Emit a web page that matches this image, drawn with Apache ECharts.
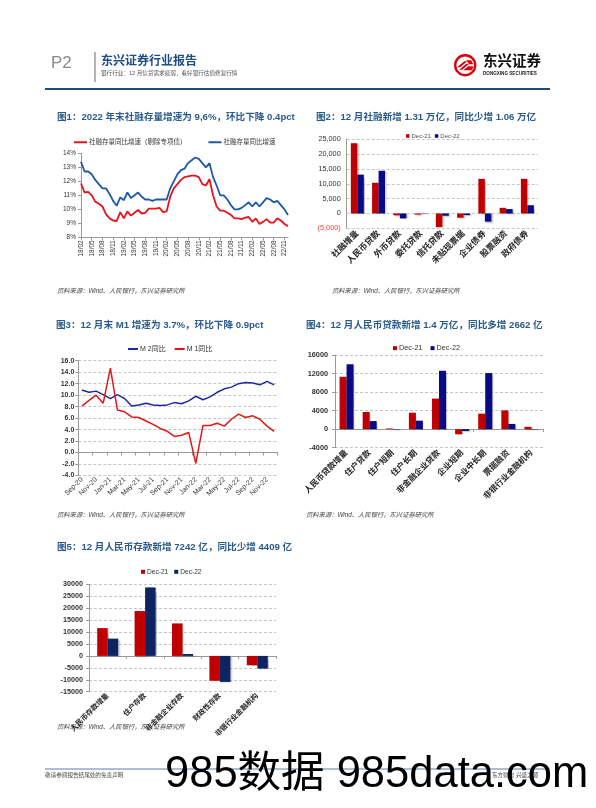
<!DOCTYPE html>
<html><head><meta charset="utf-8">
<script src="https://cdn.jsdelivr.net/npm/echarts@6.0.0/dist/echarts.min.js"></script>
<style>html,body{margin:0;padding:0;background:#fff}#c{width:596px;height:808px}</style>
</head><body><div id="c"></div><script>
// ---------- data ----------
const c1Dates = ['18/02','18/03','18/04','18/05','18/06','18/07','18/08','18/09','18/10','18/11','18/12',
 '19/01','19/02','19/03','19/04','19/05','19/06','19/07','19/08','19/09','19/10','19/11','19/12',
 '20/01','20/02','20/03','20/04','20/05','20/06','20/07','20/08','20/09','20/10','20/11','20/12',
 '21/01','21/02','21/03','21/04','21/05','21/06','21/07','21/08','21/09','21/10','21/11','21/12',
 '22/01','22/02','22/03','22/04','22/05','22/06','22/07','22/08','22/09','22/10','22/11','22/12'];
const c1Total = [13.4,12.7,12.7,12.5,12.1,11.8,11.5,11.5,11.1,10.6,10.25,
 10.85,10.65,11.2,10.8,11.0,11.2,10.9,10.7,10.7,10.6,10.7,10.7,
 10.7,10.7,11.5,12.0,12.5,12.8,12.9,13.3,13.5,13.7,13.6,13.3,
 13.0,13.3,12.3,11.7,11.0,11.0,10.7,10.3,10.0,10.0,10.1,10.3,
 10.5,10.2,10.5,10.2,10.5,10.8,10.7,10.5,10.6,10.3,10.0,9.6];
const c1ExSpecial = [11.85,11.2,11.25,11.0,10.55,10.4,10.2,9.65,9.35,9.2,9.15,
 9.8,9.35,9.85,9.55,9.75,9.95,9.7,9.75,10.05,10.05,10.05,10.1,
 9.8,9.85,10.9,11.5,11.8,12.1,12.3,12.35,12.4,12.4,12.3,11.8,
 11.7,12.15,11.0,10.2,9.9,9.9,9.75,9.6,9.35,9.35,9.3,9.4,
 9.45,9.1,9.35,8.95,9.1,9.3,9.05,9.05,9.35,9.2,8.95,8.8];

const c2Cats = ['社融增量','人民币贷款','外币贷款','委托贷款','信托贷款','未贴现票据','企业债券','股票融资','政府债券'];
const c2Dec21 = [23682,10350,-621,-392,-4609,-1420,11658,1904,11674];
const c2Dec22 = [13100,14401,-1686,-115,-767,-537,-2743,1479,2784];

const c3Months = ['Sep-20','Oct-20','Nov-20','Dec-20','Jan-21','Feb-21','Mar-21','Apr-21','May-21','Jun-21','Jul-21','Aug-21','Sep-21','Oct-21','Nov-21','Dec-21',
 'Jan-22','Feb-22','Mar-22','Apr-22','May-22','Jun-22','Jul-22','Aug-22','Sep-22','Oct-22','Nov-22','Dec-22'];
const c3M2 = [10.9,10.5,10.7,10.1,9.4,10.1,9.4,8.1,8.3,8.6,8.3,8.2,8.3,8.7,8.5,9.0,9.8,9.2,9.7,10.5,11.1,11.4,12.0,12.2,12.1,11.8,12.4,11.8];
const c3M1 = [8.1,9.1,10.0,8.6,14.7,7.4,7.1,6.2,6.1,5.5,4.9,4.2,3.7,2.8,3.0,3.5,-1.9,4.7,4.7,5.1,4.6,5.8,6.7,6.1,6.4,5.8,4.6,3.7];

const c4Cats = ['人民币贷款增量','住户贷款','住户短期','住户长期','非金融企业贷款','企业短期','企业中长期','票据融资','非银行业金融机构'];
const c4Dec21 = [11300,3700,150,3550,6600,-1100,3350,4050,500];
const c4Dec22 = [14000,1750,-80,1830,12600,-390,12100,1130,-60];

const c5Cats = ['人民币存款增量','住户存款','非金融企业存款','财政性存款','非银行业金融机构'];
const c5Dec21 = [11651,18800,13600,-10400,-3900];
const c5Dec22 = [7242,28700,800,-10900,-5300];

// ---------- style ----------
const F = '"Liberation Sans","Noto Sans CJK SC",sans-serif';
const RED = '#c00000', NAVY = '#0a0a84', NAVY5 = '#0e2462';
const TITLE = '#2a5b8c';
const grid = (l,t,w,h)=>({left:l,top:t,width:w,height:h,containLabel:false});
const dash = {show:true,lineStyle:{type:[3,2],color:'#b8b8b8',width:0.8}};
const axLine = {show:true,lineStyle:{color:'#9a9a9a',width:1}};
const fmtC = v => Math.abs(v).toLocaleString('en-US');
const plain = v => String(v);
const barShadow = {shadowColor:'rgba(0,0,0,0.25)',shadowOffsetX:1.5,shadowOffsetY:1,shadowBlur:1.5};

function titleItem(text,l,t){return {text,left:l,top:t,padding:0,textStyle:{fontFamily:F,fontSize:9.6,fontWeight:'bold',color:TITLE}};}
function src(l,t){return {type:'text',left:l,top:t,style:{text:'资料来源：Wind、人民银行，东兴证券研究所',font:'italic 6.3px '+F,fill:'#444'}};}

const option = {
 backgroundColor:'#fff',
 animation:false,
 title:[
  titleItem('图1：2022 年末社融存量增速为 9,6%，环比下降 0.4pct',57,113),
  titleItem('图2：12 月社融新增 1.31 万亿，同比少增 1.06 万亿',316,113),
  titleItem('图3：12 月末 M1 增速为 3.7%，环比下降 0.9pct',56,321),
  titleItem('图4：12 月人民币贷款新增 1.4 万亿，同比多增 2662 亿',306,321),
  titleItem('图5：12 月人民币存款新增 7242 亿，同比少增 4409 亿',57,543)
 ],
 legend:[
  {data:[{name:'社融存量同比增速（剔除专项债）',itemStyle:{color:'#e8141c'}},{name:'社融存量同比增速',itemStyle:{color:'#1b5aa6'}}],
   left:74,top:139,padding:0,itemGap:22,itemWidth:13,itemHeight:2,icon:'rect',textStyle:{fontFamily:F,fontSize:6.5,color:'#333',padding:[0,0,0,-3]}},
  {data:[{name:'Dec-21',itemStyle:{color:RED}},{name:'Dec-22',itemStyle:{color:NAVY}}],
   left:406,top:133,padding:0,itemGap:4,itemWidth:3.5,itemHeight:3.5,icon:'rect',textStyle:{fontFamily:F,fontSize:6,color:'#555',padding:[0,0,0,-3]}},
  {data:[{name:'M 2同比',itemStyle:{color:'#1c2a9c'}},{name:'M 1同比',itemStyle:{color:'#e01818'}}],
   left:128,top:345.5,padding:0,itemGap:9,itemWidth:10,itemHeight:2,icon:'rect',textStyle:{fontFamily:F,fontSize:7,color:'#333',padding:[0,0,0,-3]}},
  {data:[{name:'Dec-21',itemStyle:{color:RED}},{name:'Dec-22',itemStyle:{color:NAVY}}],
   left:393,top:344.5,padding:0,itemGap:8,itemWidth:4,itemHeight:4,icon:'rect',textStyle:{fontFamily:F,fontSize:7.3,color:'#333',padding:[0,0,0,-3]}},
  {data:[{name:'Dec-21',itemStyle:{color:RED}},{name:'Dec-22',itemStyle:{color:NAVY5}}],
   left:141,top:568.5,padding:0,itemGap:6,itemWidth:4,itemHeight:4,icon:'rect',textStyle:{fontFamily:F,fontSize:6.6,color:'#333',padding:[0,0,0,-3]}}
 ],
 grid:[
  grid(81,153.3,207,84),
  grid(346.7,139.3,191.3,89),
  grid(78.3,360.7,199.4,114.8),
  grid(335,355,208,92.7),
  grid(89,584.3,187,107.4)
 ],
 xAxis:[
  {type:'category',gridIndex:0,data:c1Dates,boundaryGap:false,axisLine:axLine,
   axisTick:{show:true,interval:2,length:3,lineStyle:{color:'#9a9a9a'}},
   axisLabel:{interval:2,rotate:90,fontFamily:F,fontSize:6.5,color:'#333',margin:3}},
  {type:'category',gridIndex:1,data:c2Cats,axisLine:{show:false,onZero:false},axisTick:{show:false},
   axisLabel:{interval:0,rotate:45,fontFamily:F,fontSize:8.5,fontWeight:'bold',color:'#222',margin:4}},
  {type:'category',gridIndex:2,data:c3Months,axisLine:axLine,
   axisTick:{show:true,interval:1,length:3,lineStyle:{color:'#9a9a9a'}},
   axisLabel:{interval:1,rotate:45,fontFamily:F,fontSize:7,color:'#333',margin:3}},
  {type:'category',gridIndex:3,data:c4Cats,axisLine:axLine,axisTick:{show:true,length:3,lineStyle:{color:'#9a9a9a'}},axisLabel:{show:false}},
  {type:'category',gridIndex:3,data:c4Cats,position:'bottom',axisLine:{show:false,onZero:false},axisTick:{show:false},
   axisLabel:{interval:0,rotate:45,fontFamily:F,fontSize:8.2,fontWeight:'bold',color:'#222',margin:4}},
  {type:'category',gridIndex:4,data:c5Cats,axisLine:axLine,axisTick:{show:true,length:3,lineStyle:{color:'#9a9a9a'}},
   axisLabel:{interval:0,rotate:45,fontFamily:F,fontSize:7.2,fontWeight:'bold',color:'#222',margin:3}}
 ],
 yAxis:[
  {type:'value',gridIndex:0,min:8,max:14,interval:1,axisLine:axLine,axisTick:{show:true,length:3},splitLine:{show:false},
   axisLabel:{formatter:'{value}%',fontFamily:F,fontSize:6.5,color:'#333',margin:5}},
  {type:'value',gridIndex:1,min:-5000,max:25000,interval:5000,axisLine:axLine,axisTick:{show:false},splitLine:dash,
   axisLabel:{formatter:v=>v<0?'{n|('+fmtC(v)+')}':fmtC(v),fontFamily:F,fontSize:7.3,color:'#333',margin:6,
    rich:{n:{color:'#ff3b3b',fontFamily:F,fontSize:7.3}}}},
  {type:'value',gridIndex:2,min:-4,max:16,interval:2,axisLine:axLine,axisTick:{show:true,length:3},splitLine:dash,
   axisLabel:{formatter:v=>v.toFixed(1),fontFamily:F,fontSize:7,fontWeight:'bold',color:'#333',margin:4}},
  {type:'value',gridIndex:3,min:-4000,max:16000,interval:4000,axisLine:axLine,axisTick:{show:true,length:3},splitLine:dash,
   axisLabel:{formatter:plain,fontFamily:F,fontSize:7.3,fontWeight:'bold',color:'#333',margin:7}},
  {type:'value',gridIndex:4,min:-15000,max:30000,interval:5000,axisLine:axLine,axisTick:{show:true,length:3},splitLine:dash,
   axisLabel:{formatter:plain,fontFamily:F,fontSize:7.2,fontWeight:'bold',color:'#333',margin:6}}
 ],
 series:[
  {type:'line',name:'社融存量同比增速（剔除专项债）',xAxisIndex:0,yAxisIndex:0,data:c1ExSpecial,symbol:'none',lineStyle:{color:'#e8141c',width:1.8},itemStyle:{color:'#e8141c'}},
  {type:'line',name:'社融存量同比增速',xAxisIndex:0,yAxisIndex:0,data:c1Total,symbol:'none',lineStyle:{color:'#1b5aa6',width:1.8},itemStyle:{color:'#1b5aa6'}},
  {type:'bar',name:'Dec-21',xAxisIndex:1,yAxisIndex:1,data:c2Dec21,barWidth:6.5,barGap:'0%',itemStyle:Object.assign({color:RED},barShadow)},
  {type:'bar',name:'Dec-22',xAxisIndex:1,yAxisIndex:1,data:c2Dec22,barWidth:6.5,barGap:'0%',itemStyle:Object.assign({color:NAVY},barShadow)},
  {type:'line',name:'M 2同比',xAxisIndex:2,yAxisIndex:2,data:c3M2,symbol:'none',lineStyle:{color:'#1c2a9c',width:1.5},itemStyle:{color:'#1c2a9c'}},
  {type:'line',name:'M 1同比',xAxisIndex:2,yAxisIndex:2,data:c3M1,symbol:'none',lineStyle:{color:'#e01818',width:1.5},itemStyle:{color:'#e01818'}},
  {type:'bar',name:'Dec-21',xAxisIndex:3,yAxisIndex:3,data:c4Dec21,barWidth:7,barGap:'0%',itemStyle:Object.assign({color:RED},barShadow)},
  {type:'bar',name:'Dec-22',xAxisIndex:3,yAxisIndex:3,data:c4Dec22,barWidth:7,barGap:'0%',itemStyle:Object.assign({color:NAVY},barShadow)},
  {type:'bar',name:'Dec-21',xAxisIndex:5,yAxisIndex:4,data:c5Dec21,barWidth:10.5,barGap:'0%',itemStyle:Object.assign({color:RED},barShadow)},
  {type:'bar',name:'Dec-22',xAxisIndex:5,yAxisIndex:4,data:c5Dec22,barWidth:10.5,barGap:'0%',itemStyle:Object.assign({color:NAVY5},barShadow)}
 ],
 graphic:[
  {type:'text',left:51,top:55,style:{text:'P2',font:'17px '+F,fill:'#8a8a8a'}},
  {type:'line',shape:{x1:95,y1:52,x2:95,y2:82},style:{stroke:'#9a9a9a',lineWidth:1.5}},
  {type:'text',left:101,top:55.5,style:{text:'东兴证券行业报告',font:'bold 12px '+F,fill:'#1f4e82'}},
  {type:'text',left:101,top:70.5,style:{text:'银行行业：12 月信贷需求疲弱，看好银行估值修复行情',font:'5.6px '+F,fill:'#555'}},
  {type:'line',shape:{x1:45,y1:89,x2:550,y2:89},style:{stroke:'#1f4e79',lineWidth:2.2}},
  // logo
  {type:'group',left:454,top:54,children:[
   {type:'circle',shape:{cx:11,cy:11,r:10},style:{fill:'#fff',stroke:'#d9000d',lineWidth:2.4}},
   {type:'polygon',shape:{points:[[3,13],[10,7],[13,7],[6,13]]},style:{fill:'#d9000d'}},
   {type:'polygon',shape:{points:[[5,15.5],[12,9.5],[15,9.5],[8,15.5]]},style:{fill:'#d9000d'}},
   {type:'polygon',shape:{points:[[9,16],[14,12],[19,12],[18,16]]},style:{fill:'#d9000d'}},
   {type:'polygon',shape:{points:[[12,6],[17,6],[19,10],[15,10]]},style:{fill:'#d9000d'}}
  ]},
  {type:'text',left:483,top:55,style:{text:'东兴证券',font:'bold 14.5px '+F,fill:'#111'}},
  {type:'text',left:483,top:71.5,style:{text:'DONGXING SECURITIES',font:'bold 4.6px '+F,fill:'#222'}},
  src(57,288), src(332,288), src(57,512), src(306,512), src(57,724),
  {type:'line',shape:{x1:45,y1:769,x2:550,y2:769},style:{stroke:'#5b7ea6',lineWidth:1}},
  {type:'text',left:45,top:773,style:{text:'敬请参阅报告结尾处的免责声明',font:'5.6px '+F,fill:'#444'}},
  {type:'text',left:492,top:773,style:{text:'东方财智 兴盛之源',font:'5.6px '+F,fill:'#444'}},
  {type:'text',left:165,top:753,style:{text:'985数据 985data.com',font:'43.5px '+F,fill:'#000'}}
 ]
};
const chart = echarts.init(document.getElementById('c'),null,{renderer:'canvas'});
chart.setOption(option);
</script></body></html>
